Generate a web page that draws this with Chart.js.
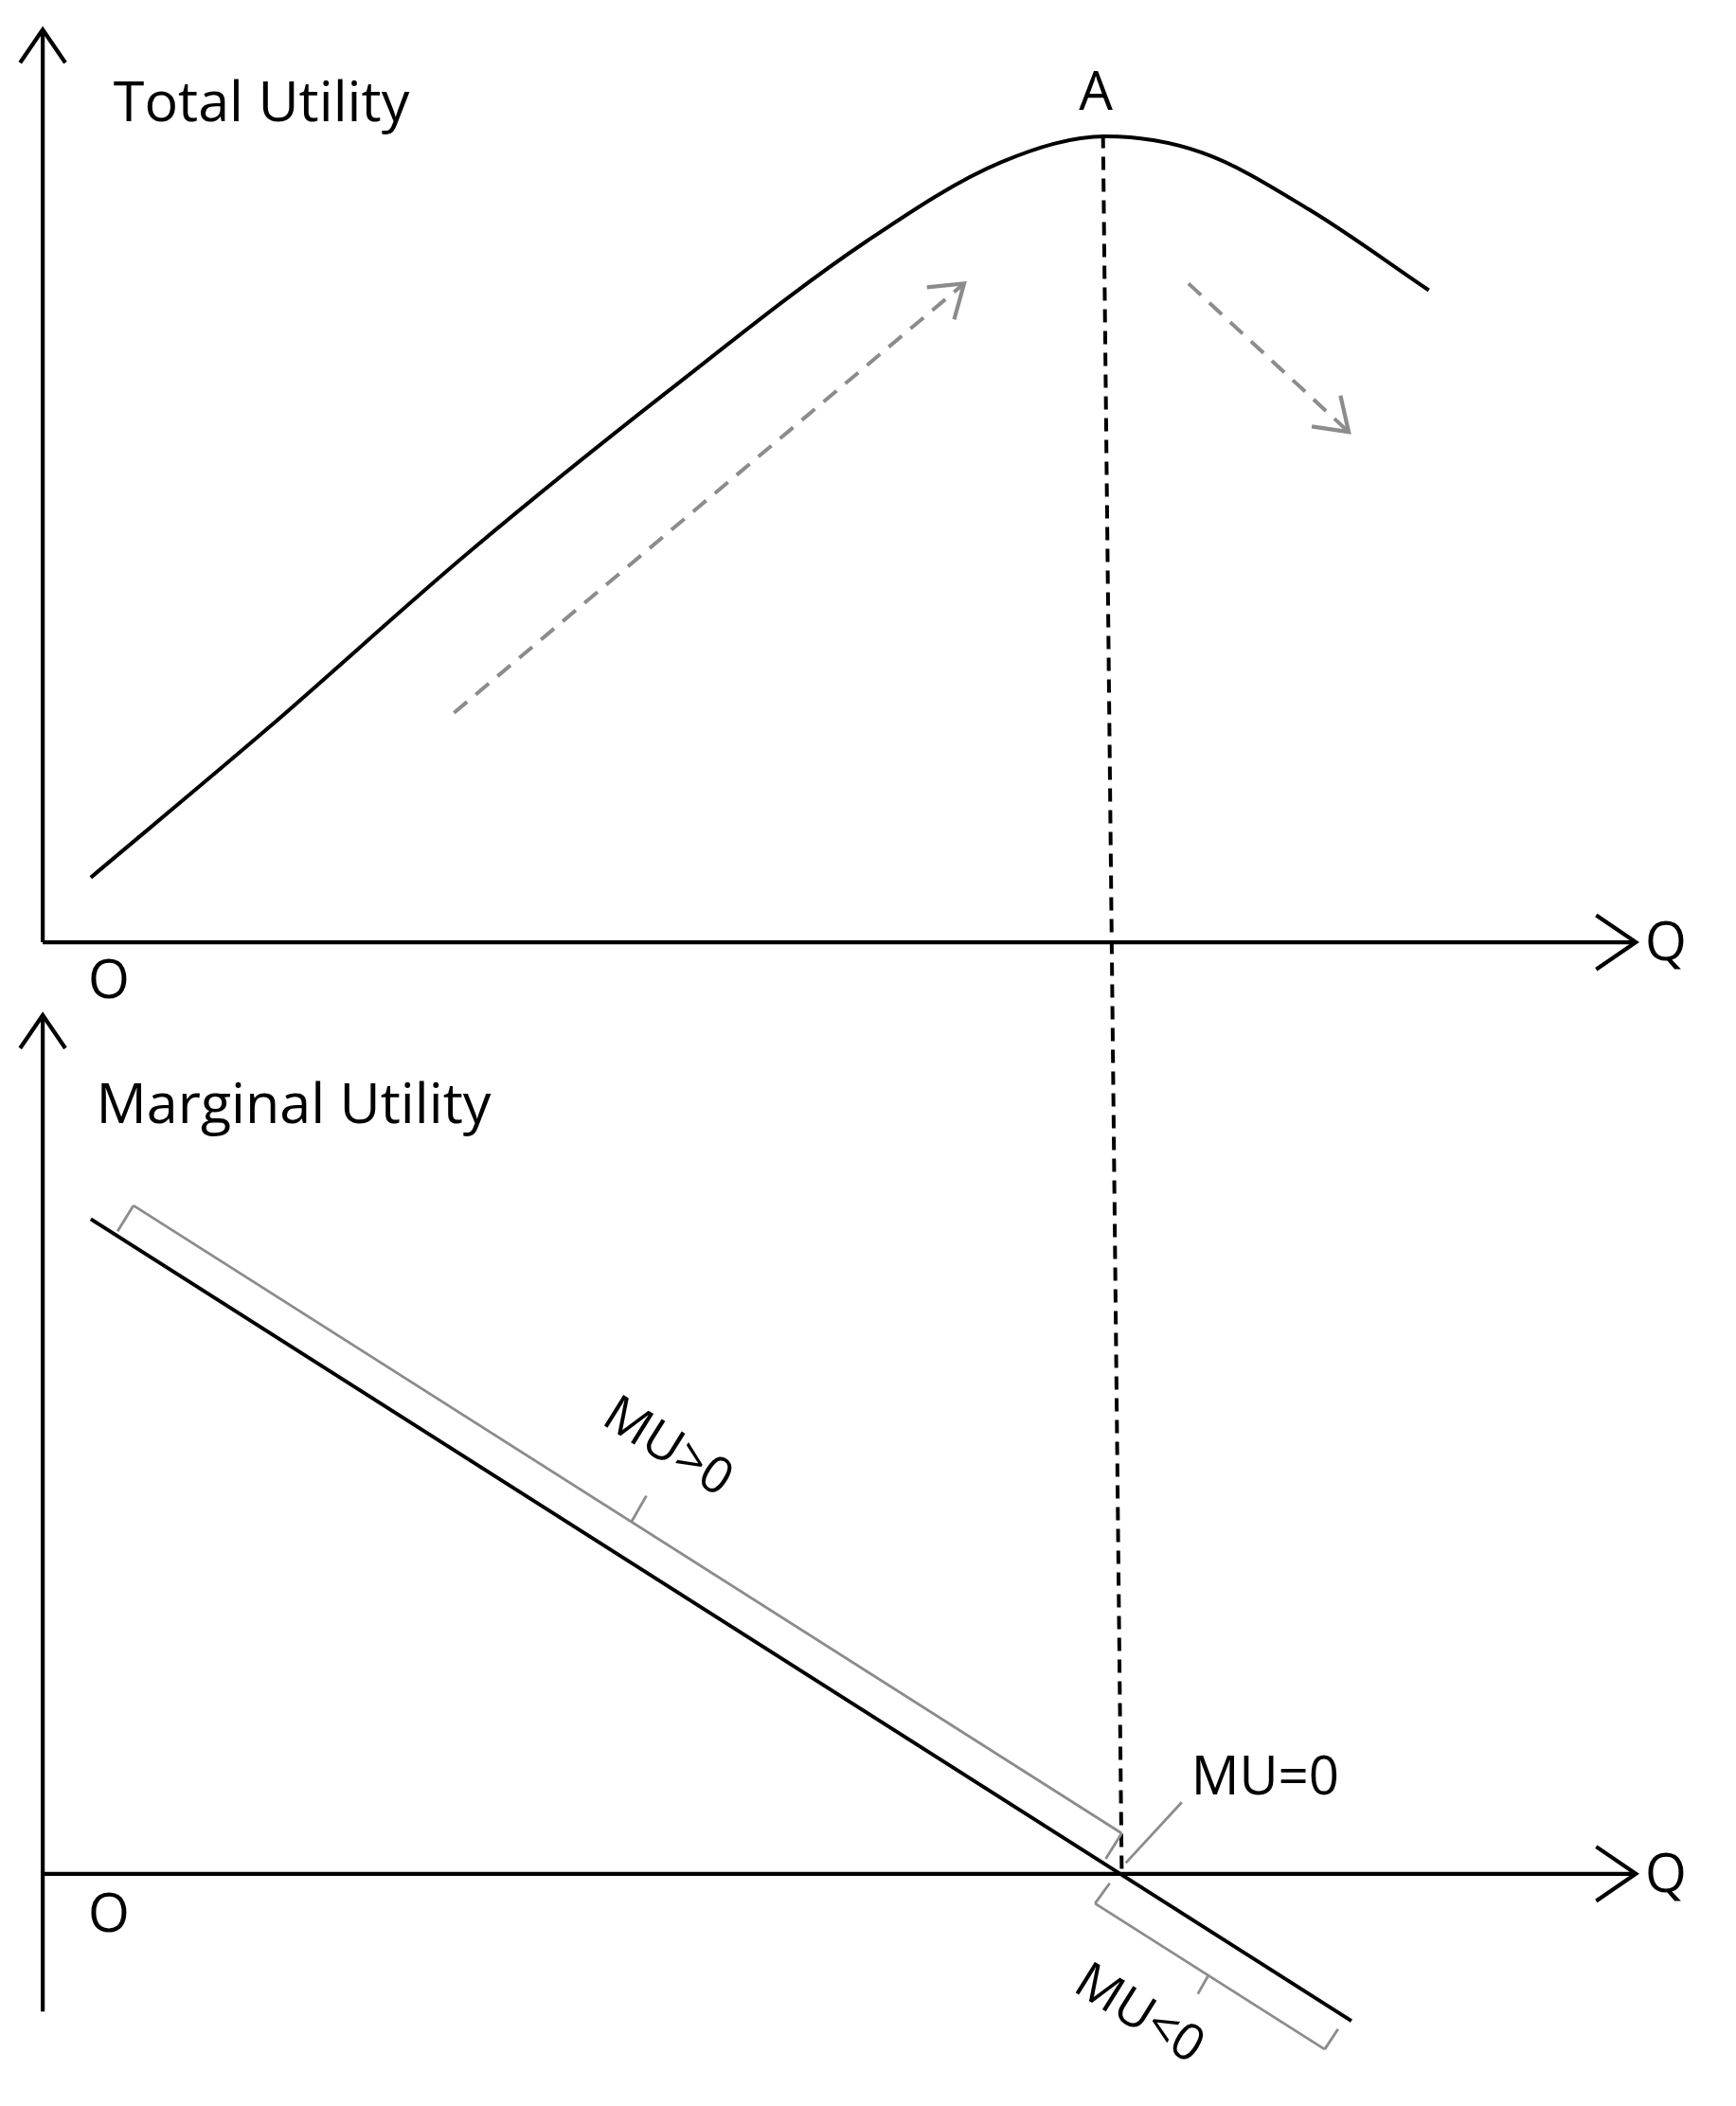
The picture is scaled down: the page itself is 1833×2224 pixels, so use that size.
<!DOCTYPE html>
<html>
<head>
<meta charset="utf-8">
<script src="https://cdn.jsdelivr.net/npm/chart.js@4.4.1/dist/chart.umd.min.js"></script>
<style>
  body { margin: 0; background: #fff; }
  canvas { display: block; }
</style>
</head>
<body>
<canvas id="chart" width="1833" height="2224"></canvas>
<script>
// drawing units: x 0..1300, y 0..1560 (down)
const tuX = [68, 200, 350, 500, 650, 750, 828, 900, 980, 1070];
const tuY = [650, 540, 410, 290, 178, 120, 101, 113, 155, 215];
const muX = [68, 1012];
const muY = [903, 1497];
const dropX = [826, 840];
const dropY = [100, 1386];
const upArrowX = [340, 722];
const upArrowY = [528, 210];
const downArrowX = [890, 1010];
const downArrowY = [210, 320];

const black = '#000';
const grey = '#8c8c8c';

function pts(xs, ys) {
  return xs.map((x, i) => ({ x: x, y: ys[i] }));
}

const FONT = '"Open Sans", "DejaVu Sans", sans-serif';

const extras = {
  id: 'extras',
  afterDatasetsDraw(chart) {
    const ctx = chart.ctx;
    const sx = chart.scales.x, sy = chart.scales.y;
    const X = v => sx.getPixelForValue(v), Y = v => sy.getPixelForValue(v);
    const k = chart.width / 1300;

    function line(x1, y1, x2, y2, col, w) {
      ctx.save();
      ctx.strokeStyle = col; ctx.lineWidth = w * k;
      ctx.beginPath(); ctx.moveTo(X(x1), Y(y1)); ctx.lineTo(X(x2), Y(y2)); ctx.stroke();
      ctx.restore();
    }
    function head(x1, y1, x2, y2, col, w, len) {
      const a = Math.atan2(Y(y2) - Y(y1), X(x2) - X(x1));
      const L = len * k;
      ctx.save();
      ctx.strokeStyle = col; ctx.lineWidth = w * k;
      ctx.beginPath();
      ctx.moveTo(X(x2) - L * Math.cos(a - 0.6), Y(y2) - L * Math.sin(a - 0.6));
      ctx.lineTo(X(x2), Y(y2));
      ctx.lineTo(X(x2) - L * Math.cos(a + 0.6), Y(y2) - L * Math.sin(a + 0.6));
      ctx.stroke();
      ctx.restore();
    }
    function text(t, x, y, size, rot) {
      ctx.save();
      ctx.fillStyle = black;
      ctx.font = (size * k) + 'px ' + FONT;
      ctx.textBaseline = 'middle';
      ctx.translate(X(x), Y(y));
      ctx.rotate((rot || 0) * Math.PI / 180);
      ctx.fillText(t, 0, 0);
      ctx.restore();
    }

    // axes
    line(32, 698, 1225, 698, black, 3); head(32, 698, 1225, 698, black, 3, 36);
    line(32, 698, 32, 22, black, 3); head(32, 698, 32, 22, black, 3, 30);
    line(32, 1388, 1225, 1388, black, 3); head(32, 1388, 1225, 1388, black, 3, 36);
    line(32, 1490, 32, 752, black, 3); head(32, 1490, 32, 752, black, 3, 30);

    // arrow heads on grey dashed arrows
    head(upArrowX[0], upArrowY[0], upArrowX[1], upArrowY[1], grey, 3, 28);
    head(downArrowX[0], downArrowY[0], downArrowX[1], downArrowY[1], grey, 3, 28);

    // brackets along MU line
    line(100, 893, 840, 1358, grey, 2);
    line(100, 893, 88, 912, grey, 2);
    line(840, 1358, 828, 1377, grey, 2);
    line(473, 1127, 484, 1108, grey, 2);
    line(820, 1410, 992, 1518, grey, 2);
    line(820, 1410, 831, 1395, grey, 2);
    line(992, 1518, 1002, 1503, grey, 2);
    line(905, 1463, 897, 1477, grey, 2);
    line(843, 1380, 885, 1335, grey, 2);

    // labels
    text('Total Utility', 85, 78, 42);
    text('A', 808, 70, 40);
    text('O', 66, 728, 40);
    text('Q', 1232, 700, 40);
    text('Marginal Utility', 72, 820, 42);
    text('O', 66, 1420, 40);
    text('Q', 1232, 1390, 40);
    text('MU=0', 892, 1318, 40);
    text('MU>0', 455, 1045, 38, 32);
    text('MU<0', 808, 1465, 38, 32);
  }
};

new Chart(document.getElementById('chart'), {
  type: 'scatter',
  data: {
    datasets: [
      { data: pts(tuX, tuY), showLine: true, borderColor: black, borderWidth: 4, cubicInterpolationMode: 'monotone', pointRadius: 0 },
      { data: pts(muX, muY), showLine: true, borderColor: black, borderWidth: 4, pointRadius: 0 },
      { data: pts(dropX, dropY), showLine: true, borderColor: black, borderWidth: 4, borderDash: [14, 9], pointRadius: 0 },
      { data: pts(upArrowX, upArrowY), showLine: true, borderColor: grey, borderWidth: 4, borderDash: [18, 12], pointRadius: 0 },
      { data: pts(downArrowX, downArrowY), showLine: true, borderColor: grey, borderWidth: 4, borderDash: [18, 12], pointRadius: 0 }
    ]
  },
  options: {
    responsive: false,
    animation: false,
    layout: { padding: 0 },
    plugins: { legend: { display: false }, tooltip: { enabled: false } },
    scales: {
      x: { type: 'linear', min: 0, max: 1300, display: false },
      y: { type: 'linear', min: 0, max: 1560, reverse: true, display: false }
    }
  },
  plugins: [extras]
});
</script>
</body>
</html>
